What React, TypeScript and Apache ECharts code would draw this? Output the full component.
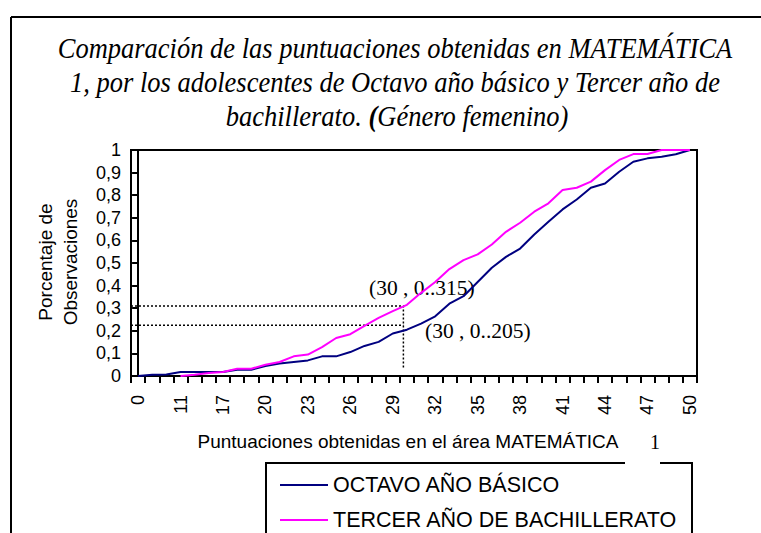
import React, { useEffect, useRef } from "react";
import * as echarts from "echarts";

const categories = [
  "0", "7", "9", "11", "13", "15", "17", "18", "19", "20",
  "21", "22", "23", "24", "25", "26", "27", "28", "29", "30",
  "31", "32", "33", "34", "35", "36", "37", "38", "39", "40",
  "41", "42", "43", "44", "45", "46", "47", "48", "49", "50",
];

const octavo = [
  0.0, 0.005, 0.007, 0.018, 0.018, 0.018, 0.018, 0.028, 0.028, 0.044,
  0.055, 0.062, 0.069, 0.087, 0.087, 0.106, 0.133, 0.151, 0.188, 0.205,
  0.232, 0.264, 0.32, 0.353, 0.416, 0.479, 0.527, 0.564, 0.626, 0.682,
  0.737, 0.781, 0.833, 0.852, 0.904, 0.948, 0.963, 0.97, 0.981, 1.0,
];

const tercer = [
  null, null, null, 0.0, 0.006, 0.013, 0.018, 0.032, 0.032, 0.05,
  0.062, 0.087, 0.095, 0.128, 0.168, 0.185, 0.222, 0.257, 0.287, 0.315,
  0.368, 0.416, 0.473, 0.513, 0.538, 0.582, 0.638, 0.678, 0.727, 0.764,
  0.823, 0.833, 0.86, 0.911, 0.956, 0.982, 0.982, 1.0, 1.0, 1.0,
];

const seriesNames = ["OCTAVO AÑO BÁSICO", "TERCER AÑO DE BACHILLERATO"];

// guide lines in data space (x as category position index)
const guideUpper = [[-0.5, 0.31], [18.75, 0.31], [18.75, 0.035]];
const guideLower = [[-0.5, 0.225], [18.75, 0.225]];

const titleLines = [
  "Comparación de las puntuaciones obtenidas en MATEMÁTICA",
  "1, por los adolescentes de Octavo año básico y Tercer año de",
];

const SANS = "'Liberation Sans', Arial, sans-serif";
const SERIF = "'Liberation Serif', 'Times New Roman', serif";

export default function App() {
  const ref = useRef<HTMLDivElement>(null);
  useEffect(() => {
    if (!ref.current) return;
    const chart = echarts.init(ref.current, null, { renderer: "svg" });
    const black = "#000";
    const titleFont = `italic 26.5px ${SERIF}`;
    chart.setOption({
      animation: false,
      backgroundColor: "#fff",
      grid: {
        left: 131, top: 150, width: 566, height: 226,
        show: true, borderColor: black, borderWidth: 2, containLabel: false,
      },
      xAxis: [
        {
          type: "category",
          data: categories,
          boundaryGap: true,
          axisLine: { lineStyle: { color: black, width: 2 } },
          axisTick: { show: true, interval: 0, length: 7, lineStyle: { color: black, width: 2 } },
          axisLabel: {
            interval: 2, rotate: 90, margin: 19, color: black,
            fontFamily: SANS, fontSize: 18,
          },
        },
        {
          type: "value", min: -0.5, max: 39.5, show: false, position: "bottom",
        },
      ],
      yAxis: {
        type: "value", min: 0, max: 1, interval: 0.1,
        splitLine: { show: false },
        axisLine: { show: true, lineStyle: { color: black, width: 2 } },
        axisTick: { show: true, length: 6, lineStyle: { color: black, width: 2 } },
        axisLabel: {
          margin: 10, color: black, fontFamily: SANS, fontSize: 18,
          formatter: (v: number) => (Math.round(v * 10) / 10).toString().replace(".", ","),
        },
      },
      legend: {
        orient: "vertical", left: 280, top: 474, padding: 0,
        itemWidth: 48, itemHeight: 21, itemGap: 13,
        textStyle: { fontFamily: SANS, fontSize: 21.5, color: black },
        data: seriesNames,
        icon: "path://M0,9 L48,9 L48,11 L0,11 Z",
      },
      series: [
        {
          name: seriesNames[0], type: "line", data: octavo, symbol: "none",
          lineStyle: { color: "#000080", width: 2 }, itemStyle: { color: "#000080" },
          z: 3,
        },
        {
          name: seriesNames[1], type: "line", data: tercer, symbol: "none",
          lineStyle: { color: "#ff00ff", width: 2 }, itemStyle: { color: "#ff00ff" },
          z: 3,
        },
        {
          type: "line", xAxisIndex: 1, data: guideUpper, symbol: "none",
          lineStyle: { color: black, width: 1.5, type: [2, 2] }, z: 2,
        },
        {
          type: "line", xAxisIndex: 1, data: guideLower, symbol: "none",
          lineStyle: { color: black, width: 1.5, type: [2, 2] }, z: 2,
        },
      ],
      graphic: [
        { type: "line", shape: { x1: 11, y1: 17, x2: 761, y2: 17 }, style: { stroke: black, lineWidth: 2 } },
        { type: "line", shape: { x1: 11, y1: 17, x2: 11, y2: 533 }, style: { stroke: black, lineWidth: 2 } },
        {
          type: "text", x: 395, y: 48, scaleY: 1.12,
          style: { text: titleLines[0], font: titleFont, fill: black, align: "center", verticalAlign: "middle" },
        },
        {
          type: "text", x: 395, y: 82, scaleY: 1.12,
          style: { text: titleLines[1], font: titleFont, fill: black, align: "center", verticalAlign: "middle" },
        },
        {
          type: "text", x: 397, y: 116, scaleY: 1.12,
          style: {
            text: "{a|bachillerato. }{b|(}{a|Género femenino)}",
            align: "center", verticalAlign: "middle",
            rich: {
              a: { font: titleFont, fill: black },
              b: { font: `italic bold 26.5px ${SERIF}`, fill: black },
            },
          },
        },
        {
          type: "text", x: 45, y: 262, rotation: Math.PI / 2,
          style: { text: "Porcentaje de", font: `19px ${SANS}`, fill: black, align: "center", verticalAlign: "middle" },
        },
        {
          type: "text", x: 70, y: 262, rotation: Math.PI / 2,
          style: { text: "Observaciones", font: `19px ${SANS}`, fill: black, align: "center", verticalAlign: "middle" },
        },
        {
          type: "text", x: 408, y: 441,
          style: { text: "Puntuaciones obtenidas en el área MATEMÁTICA", font: `19px ${SANS}`, fill: black, align: "center", verticalAlign: "middle" },
        },
        {
          type: "text", x: 655, y: 442,
          style: { text: "1", font: `20px ${SERIF}`, fill: black, align: "center", verticalAlign: "middle" },
        },
        {
          type: "text", x: 369, y: 288,
          style: { text: "(30 , 0..315)", font: `21.5px ${SERIF}`, fill: black, align: "left", verticalAlign: "middle" },
        },
        {
          type: "text", x: 425, y: 331,
          style: { text: "(30 , 0..205)", font: `21.5px ${SERIF}`, fill: black, align: "left", verticalAlign: "middle" },
        },
        { type: "line", shape: { x1: 266, y1: 463, x2: 625, y2: 463 }, style: { stroke: black, lineWidth: 2 } },
        { type: "line", shape: { x1: 660, y1: 463, x2: 692, y2: 463 }, style: { stroke: black, lineWidth: 2 } },
        { type: "line", shape: { x1: 266, y1: 462, x2: 266, y2: 533 }, style: { stroke: black, lineWidth: 2 } },
        { type: "line", shape: { x1: 692, y1: 462, x2: 692, y2: 533 }, style: { stroke: black, lineWidth: 2 } },
      ],
    });
    return () => chart.dispose();
  }, []);
  return (
    <div
      ref={ref}
      style={{ position: "fixed", left: 0, top: 0, width: 761, height: 533 }}
    />
  );
}
